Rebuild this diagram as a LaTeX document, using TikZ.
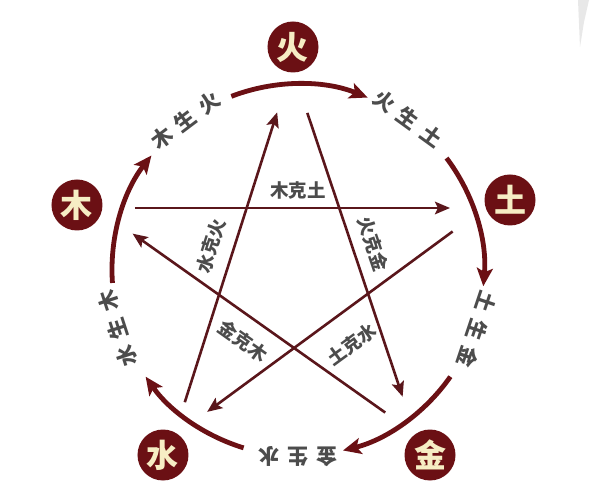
\documentclass[tikz,border=0pt]{standalone}
\usepackage{fontspec}
\newfontfamily\cjk{Noto Sans CJK SC}
\usepackage{tikz}
\usetikzlibrary{arrows.meta}
\definecolor{zaohong}{HTML}{6B1014}
\definecolor{xianhong}{HTML}{5A161B}
\definecolor{mizi}{HTML}{F6EDC4}
\definecolor{huizi}{HTML}{4C4C4C}
\newcommand{\kai}[3]{#1\hspace{8pt}#2\hspace{8pt}#3}
\tikzstyle{wx_n} = [circle, fill=zaohong, text=mizi, font=\cjk\bfseries\fontsize{32}{32}\selectfont, minimum size=51pt, inner sep=0pt]
\tikzstyle{wx_s} = [line width=4.8pt, draw=zaohong, -{Stealth[length=18pt,width=16pt,inset=4pt]}]
\tikzstyle{wx_k} = [line width=2.6pt, draw=xianhong, -{Stealth[length=15pt,width=12.5pt,inset=3pt]}]
\tikzstyle{wx_t} = [text=huizi, font=\cjk\bfseries\fontsize{21}{21}\selectfont, inner sep=0pt]
\tikzstyle{wx_kt} = [text=huizi, font=\cjk\bfseries\fontsize{18.5}{18.5}\selectfont, inner sep=0pt]

\begin{document}
\begin{tikzpicture}[x=1pt,y=1pt]
\fill[white] (-298,-217) rectangle (307,270);
\useasboundingbox (-298,-217) rectangle (307,270);
% scan edge
\fill[gray!18] (280,270) -- (291,270) -- (286,248) -- (282,223) -- cycle;

% elements
\node [wx_n] (huo) at (-5,223) {火};
\node [wx_n] (tu) at (212,70) {土};
\node [wx_n] (jin) at (132,-185) {金};
\node [wx_n] (shui) at (-135,-185) {水};
\node [wx_n] (mu) at (-221,65) {木};

% sheng ring
\coordinate (mu_a) at (111:186);
\coordinate (huo_a) at (37:186);
\coordinate (tu_a) at (-35:186);
\coordinate (jin_a) at (-107:186);
\coordinate (shui_a) at (184:186);
\draw [wx_s] (mu_a) arc (111:68:186);
\draw [wx_s] (huo_a) arc (37:-5:186);
\draw [wx_s] (tu_a) arc (-35:-76:186);
\draw [wx_s] (jin_a) arc (-107:-145:186);
\draw [wx_s] (shui_a) arc (184:142:186);
\node [wx_t, rotate=37] (mu_sheng) at (127:187) {\kai{木}{生}{火}};
\node [wx_t, rotate=-36] (huo_sheng) at (54:187) {\kai{火}{生}{土}};
\node [wx_t, rotate=-108.5] (tu_sheng) at (-18.5:189) {\kai{土}{生}{金}};
\node [wx_t, rotate=180] (jin_sheng) at (-90:187) {\kai{金}{生}{水}};
\node [wx_t, rotate=108] (shui_sheng) at (198:190) {\kai{水}{生}{木}};

% ke star
\draw [wx_k, shorten <=58pt, shorten >=60pt] ([yshift=-3pt]mu.center) -- ([yshift=-8pt]tu.center);
\draw [wx_k, shorten <=65pt, shorten >=61pt] ([shift={(-5pt,7pt)}]tu.center) -- ([shift={(-5pt,7pt)}]shui.center);
\draw [wx_k, shorten <=57pt, shorten >=67pt] ([shift={(4.5pt,-1.5pt)}]shui.center) -- ([shift={(4.5pt,-1.5pt)}]huo.center);
\draw [wx_k, shorten <=67pt, shorten >=64pt] ([shift={(-7pt,-2.4pt)}]huo.center) -- ([shift={(-7pt,-2.4pt)}]jin.center);
\draw [wx_k, shorten <=61pt, shorten >=62pt] ([shift={(5pt,7.2pt)}]jin.center) -- ([shift={(5pt,7.2pt)}]mu.center);
\node [wx_kt] (mu_ke) at (0,80) {木克土};
\node [wx_kt, rotate=72.3] (shui_ke) at (-87,24) {水克火};
\node [wx_kt, rotate=-71.4] (huo_ke) at (75,26) {火克金};
\node [wx_kt, rotate=-35.3] (jin_ke) at (-55,-71) {金克木};
\node [wx_kt, rotate=36.3] (tu_ke) at (54,-74) {土克水};
\end{tikzpicture}
\end{document}
